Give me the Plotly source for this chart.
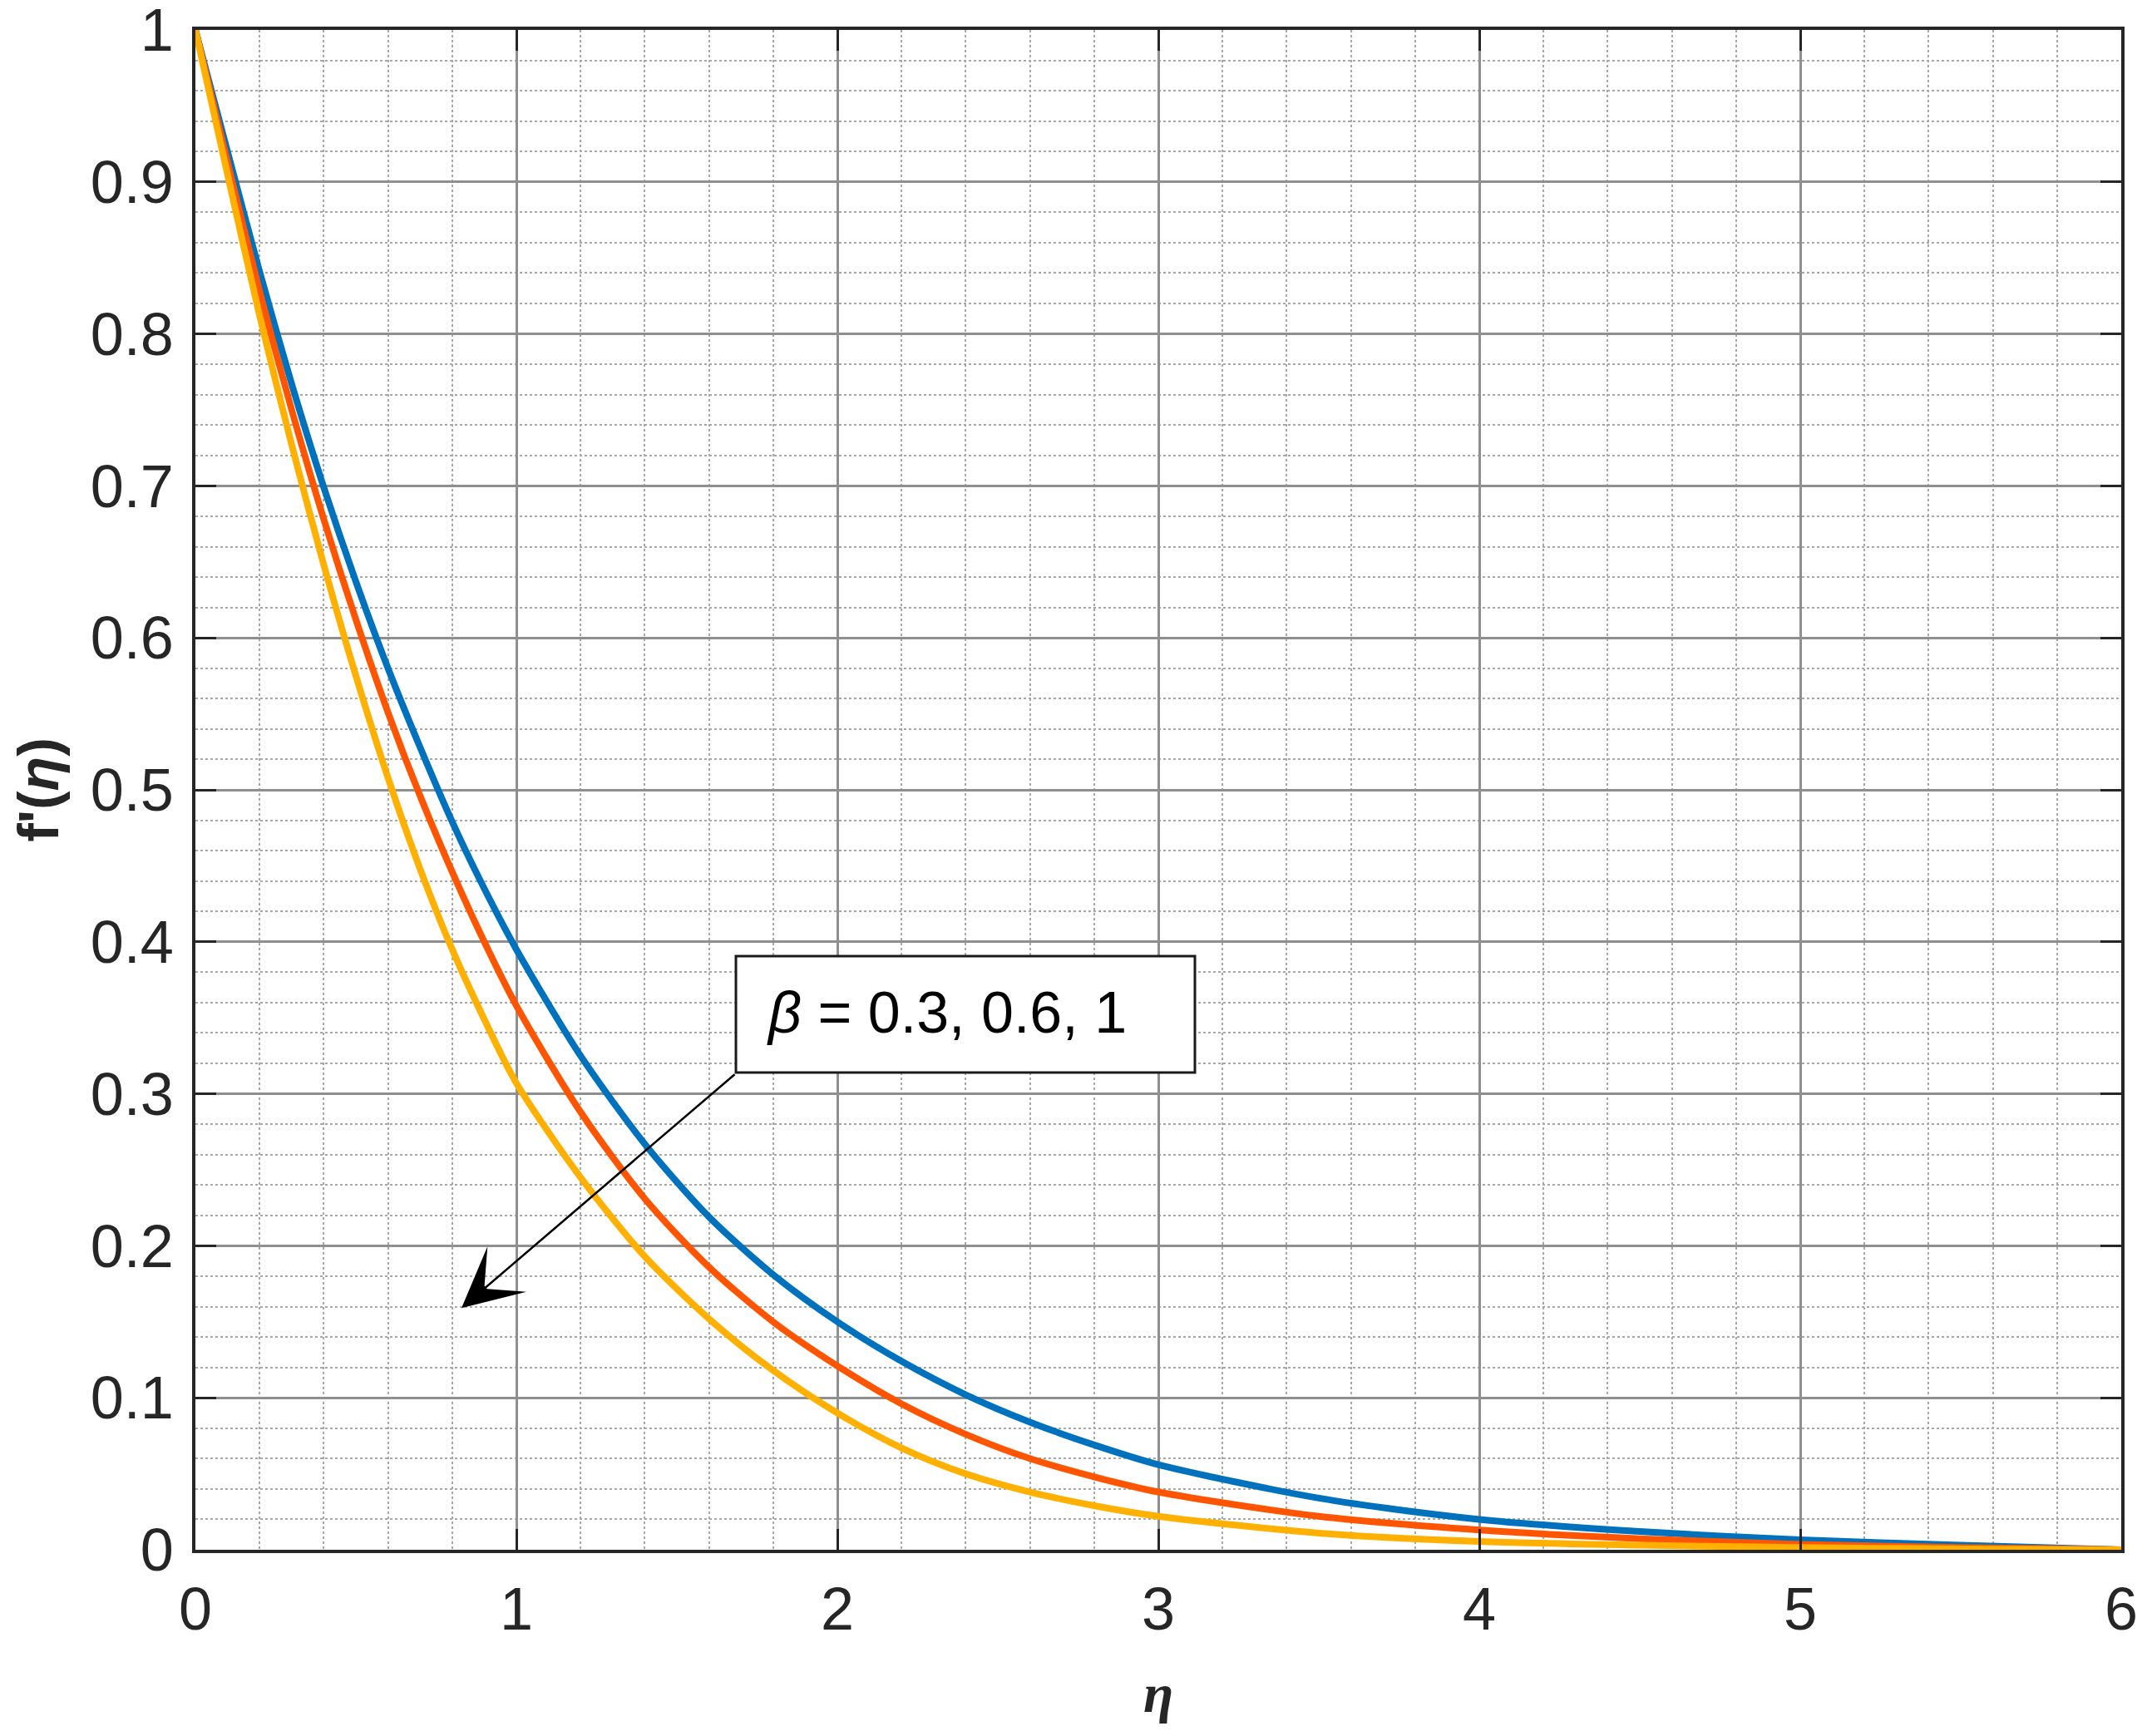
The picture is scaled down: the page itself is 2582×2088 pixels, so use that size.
import plotly.graph_objects as go

# eta grid and f'(eta) for each beta
eta = [0, 0.1, 0.2, 0.3, 0.4, 0.5, 0.6, 0.7, 0.8, 0.9, 1.0, 1.2, 1.4, 1.6, 1.8,
       2.0, 2.2, 2.4, 2.6, 2.8, 3.0, 3.5, 4.0, 4.5, 5.0, 5.5, 6.0]
beta_labels = ["0.3", "0.6", "1"]
fp_beta_03 = [1.0, 0.920, 0.841, 0.767, 0.699, 0.637, 0.580, 0.528, 0.479, 0.435, 0.395,
              0.325, 0.267, 0.219, 0.181, 0.150, 0.124, 0.102, 0.084, 0.069, 0.056,
              0.034, 0.020, 0.012, 0.0065, 0.003, 0.0]
fp_beta_06 = [1.0, 0.913, 0.828, 0.750, 0.678, 0.612, 0.551, 0.496, 0.446, 0.400, 0.358,
              0.288, 0.231, 0.186, 0.150, 0.121, 0.096, 0.076, 0.060, 0.048, 0.038,
              0.022, 0.013, 0.0073, 0.0036, 0.0015, 0.0]
fp_beta_1 = [1.0, 0.905, 0.812, 0.727, 0.648, 0.575, 0.508, 0.448, 0.395, 0.349, 0.307,
             0.245, 0.193, 0.152, 0.118, 0.090, 0.067, 0.050, 0.038, 0.029, 0.022,
             0.011, 0.0055, 0.003, 0.0015, 0.0006, 0.0]

y_ticks = [0, 0.1, 0.2, 0.3, 0.4, 0.5, 0.6, 0.7, 0.8, 0.9, 1]
y_tick_text = ["0", "0.1", "0.2", "0.3", "0.4", "0.5", "0.6", "0.7", "0.8", "0.9", "1"]

colors = ['#0072BD', '#FF5500', '#FFB000']
font_fam = "Arial, Liberation Sans, sans-serif"

fig = go.Figure()
for vals, col, lab in zip([fp_beta_03, fp_beta_06, fp_beta_1], colors, beta_labels):
    fig.add_trace(go.Scatter(
        x=eta, y=vals, mode='lines', name=f"β = {lab}",
        line=dict(color=col, width=8, shape='spline', smoothing=0.8),
        showlegend=False
    ))

# text box with the beta values
fig.add_shape(type='rect', xref='x', yref='y',
              x0=1.684, x1=3.114, y0=0.314, y1=0.3906,
              line=dict(color='#1a1a1a', width=3), fillcolor='white', layer='above')
fig.add_annotation(
    x=2.34, y=0.3534, xref='x', yref='y',
    text="<i>β</i> = " + ", ".join(beta_labels),
    showarrow=False,
    font=dict(size=70, color='black', family=font_fam)
)
# arrow pointing toward increasing beta
fig.add_annotation(
    x=0.829, y=0.159, ax=1.684, ay=0.3135,
    xref='x', yref='y', axref='x', ayref='y',
    text="", showarrow=True,
    arrowhead=3, arrowsize=4.8, arrowwidth=2.5, arrowcolor='black'
)

axis_common = dict(
    showline=True, linecolor='#262626', linewidth=3.5, mirror='ticks',
    ticks='inside', ticklen=25, tickwidth=3, tickcolor='#262626',
    showgrid=True, gridcolor='#8f8f8f', gridwidth=2.5,
    zeroline=False, ticklabeloverflow='allow', automargin=False,
    tickfont=dict(size=72, color='#262626', family=font_fam),
)

fig.update_xaxes(
    range=[0, 6], dtick=1, tick0=0,
    minor=dict(dtick=0.2, showgrid=True, gridcolor='#a8a8a8', gridwidth=2, griddash='dot'),
    title=dict(text="<b><i>η</i></b>", standoff=40,
               font=dict(size=66, color='#262626', family="Liberation Serif, serif")),
    ticklabelstandoff=6,
    **axis_common
)
fig.update_yaxes(
    range=[0, 1], tickmode='array', tickvals=y_ticks, ticktext=y_tick_text,
    minor=dict(dtick=0.02, tick0=0, showgrid=True, gridcolor='#a8a8a8', gridwidth=2, griddash='dot'),
    title=dict(text="<b>f'(<i>η</i>)</b>", standoff=20,
               font=dict(size=68, color='#262626', family=font_fam)),
    ticklabelstandoff=8,
    **axis_common
)

# the page body adds an 8px offset, margins compensate for it
fig.update_layout(
    width=2582, height=2088,
    margin=dict(l=227, r=39, t=28, b=232),
    paper_bgcolor='white', plot_bgcolor='white',
    font=dict(family=font_fam)
)

fig.write_html("out.html")
